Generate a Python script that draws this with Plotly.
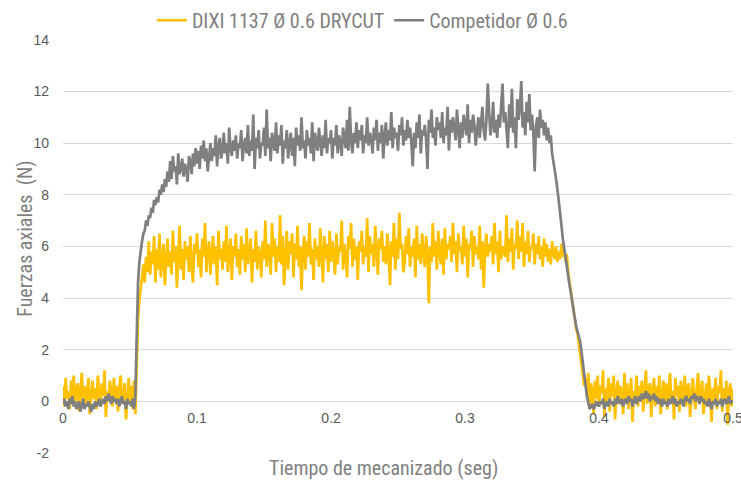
import plotly.graph_objects as go

# Sampling of the recorded signal (seconds)
t_start = 0.0
t_step = 0.001

# DIXI 1137 Ø 0.6 DRYCUT – axial force (N), one value per 1 ms (rows of 10 ms)
dixi = [
    0.6, -0.2, 0.9, 0.1, 0.4, -0.3, 0.8, 0.2, 1.0, -0.1,
    0.5, 0.7, -0.4, 0.3, 1.1, 0.0, 0.6, -0.2, 0.4, 0.9,
    -0.5, 0.2, 0.8, 0.1, 0.5, -0.3, 1.0, 0.3, -0.1, 0.7,
    0.2, 1.2, -0.6, 0.4, 0.0, 0.8, 0.3, -0.2, 0.9, 0.1,
    0.6, -0.4, 0.5, 1.0, -0.1, 0.3, 0.7, -0.7, 0.4, 0.9,
    0.0, 0.6, -0.3, 0.8, -0.5, 1.8, 3.2, 3.9, 4.4, 4.8,
    5.3, 4.6, 5.6, 5.0, 6.2, 4.9, 5.8, 5.3, 6.4, 4.6,
    5.9, 5.1, 6.5, 4.8, 5.7, 6.1, 4.5, 5.6, 6.3, 5.2,
    5.8, 4.9, 6.6, 5.4, 6.0, 4.4, 5.7, 6.8, 5.1, 5.9,
    4.7, 6.2, 5.5, 6.0, 5.0, 6.4, 5.3, 4.6, 6.1, 5.7,
    6.5, 5.2, 5.9, 4.8, 6.3, 5.6, 6.9, 5.0, 5.8, 6.2,
    4.9, 5.7, 6.4, 5.3, 6.0, 4.5, 6.6, 5.5, 5.9, 5.1,
    6.2, 5.4, 6.8, 5.0, 5.7, 6.3, 4.7, 6.0, 5.6, 6.5,
    5.2, 5.9, 4.9, 6.4, 5.5, 6.1, 5.0, 6.7, 5.3, 5.8,
    6.3, 4.6, 5.9, 5.4, 6.6, 5.1, 6.0, 5.7, 4.8, 6.2,
    5.5, 7.0, 5.2, 6.1, 5.8, 4.9, 6.9, 5.6, 6.3, 5.0,
    6.0, 5.4, 7.2, 5.3, 6.4, 4.5, 5.9, 6.6, 5.1, 6.2,
    5.7, 6.5, 4.8, 6.1, 5.5, 6.8, 5.2, 6.0, 4.3, 5.8,
    6.4, 5.1, 6.2, 5.6, 6.9, 5.3, 5.9, 4.7, 6.3, 5.5,
    6.0, 5.2, 6.7, 5.8, 4.6, 6.4, 5.5, 6.1, 5.0, 6.6,
    5.4, 6.2, 5.7, 4.9, 6.5, 5.3, 6.0, 5.8, 7.0, 5.1,
    6.1, 5.6, 4.8, 6.4, 5.9, 6.9, 5.2, 6.3, 5.5, 6.0,
    4.7, 6.2, 5.8, 6.6, 5.3, 6.0, 5.6, 7.1, 5.0, 6.4,
    5.7, 6.1, 5.2, 6.8, 5.5, 4.9, 6.3, 5.9, 6.6, 5.4,
    6.0, 5.3, 6.5, 5.8, 4.5, 6.2, 5.6, 6.9, 5.1, 6.3,
    5.5, 7.3, 5.9, 6.1, 5.0, 5.4, 6.4, 5.7, 6.7, 5.2,
    6.0, 5.6, 6.3, 4.8, 6.8, 5.5, 6.1, 5.3, 6.5, 5.9,
    5.2, 6.4, 5.7, 3.8, 6.0, 5.4, 6.9, 5.6, 6.2, 5.1,
    6.6, 5.8, 5.3, 6.3, 4.9, 6.7, 5.5, 6.1, 5.9, 6.4,
    5.4, 6.9, 5.7, 6.2, 5.0, 6.5, 5.8, 6.0, 5.3, 6.8,
    5.6, 6.3, 4.8, 6.1, 5.9, 6.6, 5.2, 6.4, 5.7, 6.0,
    5.5, 6.8, 5.1, 6.2, 4.4, 5.9, 6.5, 5.6, 6.1, 5.8,
    6.4, 5.3, 6.9, 5.7, 6.2, 5.0, 6.6, 5.5, 6.0, 5.9,
    5.6, 7.2, 5.4, 6.3, 5.8, 6.7, 5.1, 6.1, 5.9, 7.0,
    5.5, 6.4, 5.8, 6.9, 5.2, 6.2, 5.7, 6.6, 5.4, 6.0,
    5.9, 6.5, 5.3, 6.1, 5.7, 6.4, 5.5, 6.0, 5.2, 6.3,
    5.6, 6.1, 5.4, 5.9, 5.3, 6.2, 5.7, 5.5, 6.0, 5.4,
    5.8, 5.5, 6.1, 5.6, 5.9, 5.4, 5.7, 5.0, 4.6, 4.2,
    4.0, 3.6, 3.1, 2.8, 2.6, 2.2, 1.8, 1.4, 1.0, 0.6,
    0.9, 0.2, 1.1, -0.3, 0.7, 0.4, -0.5, 0.8, 0.1, 1.0,
    -0.2, 0.6, 0.3, 1.2, -0.6, 0.5, 0.0, 0.9, -0.4, 0.7,
    0.2, 1.0, -0.7, 0.4, 0.8, -0.1, 0.6, 0.3, -0.5, 1.1,
    0.1, 0.7, -0.3, 0.5, 0.9, -0.8, 0.4, 0.2, 1.0, -0.2,
    0.6, 0.0, 0.8, -0.4, 0.3, 1.2, -0.1, 0.5, 0.7, -0.6,
    0.4, 0.9, -0.2, 0.6, 0.1, 1.0, -0.5, 0.3, 0.8, 0.0,
    0.7, -0.3, 0.5, 1.1, -0.1, 0.4, -0.7, 0.9, 0.2, 0.6,
    -0.4, 0.8, 0.3, 0.0, 1.0, -0.2, 0.5, 0.7, -0.6, 0.4,
    0.9, 0.1, -0.3, 0.6, 1.1, -0.1, 0.3, 0.8, -0.5, 0.2,
    0.7, -0.2, 1.0, 0.4, -0.8, 0.5, 0.1, 0.9, -0.3, 0.6,
    0.3, 1.2, -0.4, 0.5, 0.0, 0.8, -0.9, 0.4, 0.7, -0.2,
    0.5,
]

# Competidor Ø 0.6 – axial force (N), one value per 1 ms (rows of 10 ms)
competidor = [
    -0.1, 0.1, -0.2, 0.0, -0.3, 0.1, -0.1, 0.2, -0.2, 0.0,
    -0.3, -0.1, 0.0, -0.4, -0.2, 0.1, -0.3, -0.1, -0.2, 0.0,
    -0.2, -0.4, -0.1, -0.3, 0.0, -0.2, -0.1, 0.1, -0.2, 0.0,
    0.1, -0.1, 0.2, 0.0, 0.3, 0.1, -0.1, 0.2, 0.0, 0.1,
    -0.1, 0.1, -0.2, 0.0, 0.2, -0.1, 0.0, -0.3, 0.1, -0.1,
    0.0, -0.2, 0.1, -0.3, 0.2, 2.5, 4.6, 5.4, 5.9, 6.2,
    6.5, 6.6, 7.0, 6.8, 7.2, 7.1, 7.5, 7.3, 7.8, 7.6,
    7.9, 7.7, 8.2, 8.0, 8.4, 8.1, 8.6, 8.3, 8.9, 8.5,
    9.3, 8.6, 9.5, 8.9, 9.1, 8.4, 9.6, 8.8, 9.0, 9.4,
    8.7, 9.2, 9.0, 8.5, 9.5, 9.3, 8.8, 9.6, 9.1, 9.8,
    9.2, 9.7, 9.0, 9.9, 9.4, 10.1, 9.3, 9.8, 8.9, 9.6,
    10.0, 9.3, 9.8, 9.5, 10.3, 9.1, 9.9, 10.2, 9.4, 9.7,
    10.4, 9.6, 10.0, 9.2, 10.6, 9.8, 9.5, 10.1, 9.7, 10.3,
    9.4, 10.0, 9.8, 10.5, 9.3, 9.9, 10.2, 9.6, 10.7, 9.5,
    10.1, 9.7, 11.1, 9.0, 10.2, 9.8, 10.5, 9.4, 10.0, 9.9,
    10.6, 9.5, 11.3, 9.8, 10.2, 9.3, 10.4, 10.0, 9.7, 10.8,
    9.6, 10.3, 9.9, 10.7, 9.2, 10.1, 9.8, 10.5, 9.4, 10.0,
    10.4, 9.5, 10.2, 9.1, 10.6, 9.9, 10.3, 9.7, 11.0, 9.8,
    10.1, 9.4, 10.5, 9.9, 10.2, 9.6, 10.8, 9.3, 10.4, 10.0,
    9.7, 10.6, 10.1, 9.5, 10.3, 9.8, 10.9, 9.6, 10.2, 10.0,
    10.5, 9.4, 10.2, 9.9, 10.7, 9.6, 10.3, 10.0, 9.5, 10.6,
    10.2, 9.8, 10.9, 9.7, 11.4, 10.1, 9.6, 10.4, 10.0, 10.8,
    9.8, 10.5, 10.1, 10.7, 9.6, 10.3, 10.0, 11.0, 9.9, 10.4,
    10.2, 9.6, 10.6, 10.1, 10.9, 9.7, 10.4, 10.0, 10.7, 9.4,
    10.3, 10.8, 9.9, 10.5, 10.1, 11.2, 9.8, 10.6, 10.2, 10.4,
    9.7, 10.7, 10.3, 11.0, 9.9, 10.5, 10.1, 10.9, 10.2, 10.6,
    10.0, 9.1, 10.4, 9.8, 10.8, 10.2, 11.1, 9.6, 10.5, 10.3,
    10.7, 10.1, 9.0, 10.9, 10.4, 11.3, 10.2, 10.6, 9.9, 11.0,
    10.5, 10.8, 10.2, 11.2, 10.0, 10.6, 10.3, 11.4, 9.7, 10.9,
    10.4, 11.0, 10.6, 10.1, 11.3, 10.5, 9.8, 10.8, 10.2, 11.1,
    10.6, 10.3, 11.5, 10.0, 10.9, 10.4, 11.1, 10.7, 9.9, 10.5,
    11.0, 10.2, 10.8, 11.4, 10.5, 10.1, 10.9, 12.3, 11.2, 10.3,
    10.7, 11.6, 10.4, 10.9, 10.2, 11.1, 10.6, 11.3, 12.3, 10.8,
    11.2, 10.5, 9.8, 11.5, 10.6, 12.1, 10.4, 11.0, 9.8, 11.7,
    10.9, 11.4, 12.4, 10.6, 11.2, 10.3, 11.6, 10.8, 11.9, 10.5,
    11.1, 10.4, 8.9, 10.7, 11.0, 10.2, 11.3, 10.6, 10.9, 10.3,
    10.8, 10.1, 10.6, 10.0, 10.3, 9.6, 9.3, 9.0, 8.6, 8.2,
    7.8, 7.2, 6.8, 6.3, 5.9, 5.6, 5.2, 4.9, 4.5, 4.2,
    3.8, 3.5, 3.2, 2.9, 2.7, 2.5, 2.3, 1.9, 1.4, 1.0,
    0.6, 0.2, -0.1, -0.3, -0.2, -0.1, -0.3, -0.2, 0.0, -0.1,
    -0.2, 0.0, -0.1, 0.1, -0.3, -0.1, 0.0, -0.2, 0.1, -0.1,
    0.0, -0.2, 0.1, -0.1, 0.2, 0.0, -0.1, 0.1, -0.2, 0.0,
    0.1, -0.1, 0.2, 0.0, 0.1, -0.2, 0.0, 0.2, -0.1, 0.1,
    0.2, 0.0, 0.3, 0.1, 0.2, 0.4, 0.1, 0.3, 0.0, 0.2,
    0.1, 0.3, 0.0, 0.2, -0.1, 0.1, 0.0, -0.2, 0.1, -0.1,
    0.0, -0.2, 0.1, -0.1, 0.0, 0.2, -0.1, 0.1, -0.2, 0.0,
    -0.1, 0.1, 0.0, -0.2, 0.1, 0.2, 0.0, 0.1, -0.1, 0.2,
    0.1, 0.3, 0.0, 0.2, 0.1, -0.1, 0.2, 0.0, 0.1, -0.1,
    0.0, -0.2, 0.1, -0.1, -0.3, 0.0, -0.1, 0.1, -0.2, 0.0,
    -0.1, 0.1, -0.2, 0.0, 0.1, -0.1, 0.0, 0.2, -0.1, 0.0,
    0.0,
]

x_ticks = [0, 0.1, 0.2, 0.3, 0.4, 0.5]
x_tick_labels = ["0", "0.1", "0.2", "0.3", "0.4", "0.5"]
y_ticks = [-2, 0, 2, 4, 6, 8, 10, 12, 14]
y_tick_labels = ["-2", "0", "2", "4", "6", "8", "10", "12", "14"]

series_names = ["DIXI 1137 Ø 0.6 DRYCUT", "Competidor Ø 0.6"]
x_title = "Tiempo de mecanizado (seg)"
y_title = "Fuerzas axiales  (N)"

NARROW = "Liberation Sans Narrow, Arial Narrow, Roboto Condensed, Roboto, sans-serif"
TICKFONT = dict(family="Liberation Sans, Arial, sans-serif", size=14, color="#595959")

fig = go.Figure()
fig.add_trace(go.Scatter(
    y=dixi, x0=t_start, dx=t_step, mode="lines", name=series_names[0],
    line=dict(color="#FFC000", width=2.7),
))
fig.add_trace(go.Scatter(
    y=competidor, x0=t_start, dx=t_step, mode="lines", name=series_names[1],
    line=dict(color="#7F7F7F", width=2.7),
))

fig.update_layout(
    width=741, height=482,
    margin=dict(l=63, r=8, t=38, b=29),
    paper_bgcolor="white", plot_bgcolor="white",
    showlegend=True,
    legend=dict(
        orientation="h", xref="container", yref="container",
        x=0.205, xanchor="left", y=0.958, yanchor="middle",
        font=dict(family=NARROW, size=20, color="#7F7F7F"),
        bgcolor="rgba(0,0,0,0)", itemwidth=30,
    ),
    xaxis=dict(
        range=[0, 0.5], tickvals=x_ticks, ticktext=x_tick_labels,
        showgrid=False, zeroline=False, showline=False, ticks="",
        anchor="free", position=0.125, tickfont=TICKFONT, automargin=False,
        ticklabelstandoff=7, ticklabeloverflow="allow",
    ),
    yaxis=dict(
        range=[-2, 14], tickvals=y_ticks, ticktext=y_tick_labels,
        showgrid=True, gridcolor="#D9D9D9",
        gridwidth=1, zeroline=False, showline=False, ticks="",
        tickfont=TICKFONT, ticklabelstandoff=13, automargin=False,
    ),
    annotations=[
        dict(text=x_title, xref="paper", yref="paper", x=0.478, y=-0.036,
             xanchor="center", yanchor="middle", showarrow=False,
             font=dict(family=NARROW, size=20, color="#7F7F7F")),
        dict(text=y_title, xref="paper", yref="paper", x=-0.057, y=0.518,
             xanchor="center", yanchor="middle", showarrow=False, textangle=-90,
             font=dict(family=NARROW, size=20, color="#7F7F7F")),
    ],
)

fig.write_html(
    "out.html",
    config={"displayModeBar": False},
    post_script="document.body.style.margin='0';document.body.style.overflow='hidden';",
)
